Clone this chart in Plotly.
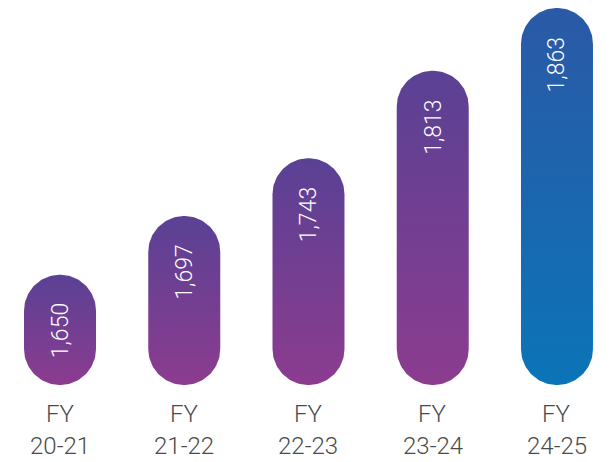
import numpy as np
import plotly.graph_objects as go

# Headcount by financial year
years = ["20-21", "21-22", "22-23", "23-24", "24-25"]
values = [1650, 1697, 1743, 1813, 1863]
value_labels = ["1,650", "1,697", "1,743", "1,813", "1,863"]

# gradient colours (bottom -> top) for each pill
purple = [[0, "#8c3c8f"], [1, "#5a4194"]]
blue = [[0, "#0b74b8"], [1, "#2b59a6"]]
gradients = [purple, purple, purple, purple, blue]

W, H = 614, 462
M_L, M_R, M_T, M_B = 0, 0, 0, 77
Y_BASE, Y_TOP = 1562, 1869.4
X_RANGE = [-0.483, 4.459]

plot_w = W - M_L - M_R
plot_h = H - M_T - M_B
px_per_x = plot_w / (X_RANGE[1] - X_RANGE[0])
px_per_y = plot_h / (Y_TOP - Y_BASE)

RADIUS_PX = 36
rx = RADIUS_PX / px_per_x
ry = RADIUS_PX / px_per_y


def pill(cx, top, base):
    """Outline of a vertical capsule from base to top, centred on cx."""
    t_top = np.linspace(0, np.pi, 60)
    t_bot = np.linspace(np.pi, 2 * np.pi, 60)
    xs = np.concatenate([cx + rx * np.cos(t_top), cx + rx * np.cos(t_bot)])
    ys = np.concatenate([top - ry + ry * np.sin(t_top), base + ry + ry * np.sin(t_bot)])
    return np.append(xs, xs[0]), np.append(ys, ys[0])


fig = go.Figure()
for i, (v, grad) in enumerate(zip(values, gradients)):
    xs, ys = pill(i, v, Y_BASE)
    fig.add_trace(go.Scatter(
        x=xs, y=ys, mode="lines", fill="toself",
        line=dict(width=0, color="rgba(0,0,0,0)"),
        fillgradient=dict(type="vertical", colorscale=grad),
        hoverinfo="skip", showlegend=False,
    ))

label_font = dict(family="Roboto, Liberation Sans, sans-serif", color="white", size=23, weight=300)
axis_font = dict(family="Roboto, Liberation Sans, sans-serif", color="#4a4a4a", size=24, weight=300)

for i, (v, lab) in enumerate(zip(values, value_labels)):
    fig.add_annotation(x=i, y=v, text=lab, textangle=-90, showarrow=False,
                       xanchor="center", yanchor="top", yshift=-27, font=label_font)
    fig.add_annotation(x=i, y=0, yref="paper", text="FY", showarrow=False,
                       yanchor="middle", yshift=-29, font=axis_font)
    fig.add_annotation(x=i, y=0, yref="paper", text=years[i], showarrow=False,
                       yanchor="middle", yshift=-61, font=axis_font)

fig.update_layout(
    width=W, height=H,
    margin=dict(l=M_L, r=M_R, t=M_T, b=M_B),
    paper_bgcolor="white", plot_bgcolor="white",
    xaxis=dict(range=X_RANGE, visible=False, fixedrange=True),
    yaxis=dict(range=[Y_BASE, Y_TOP], visible=False, fixedrange=True),
)

fig.write_html("out.html")
